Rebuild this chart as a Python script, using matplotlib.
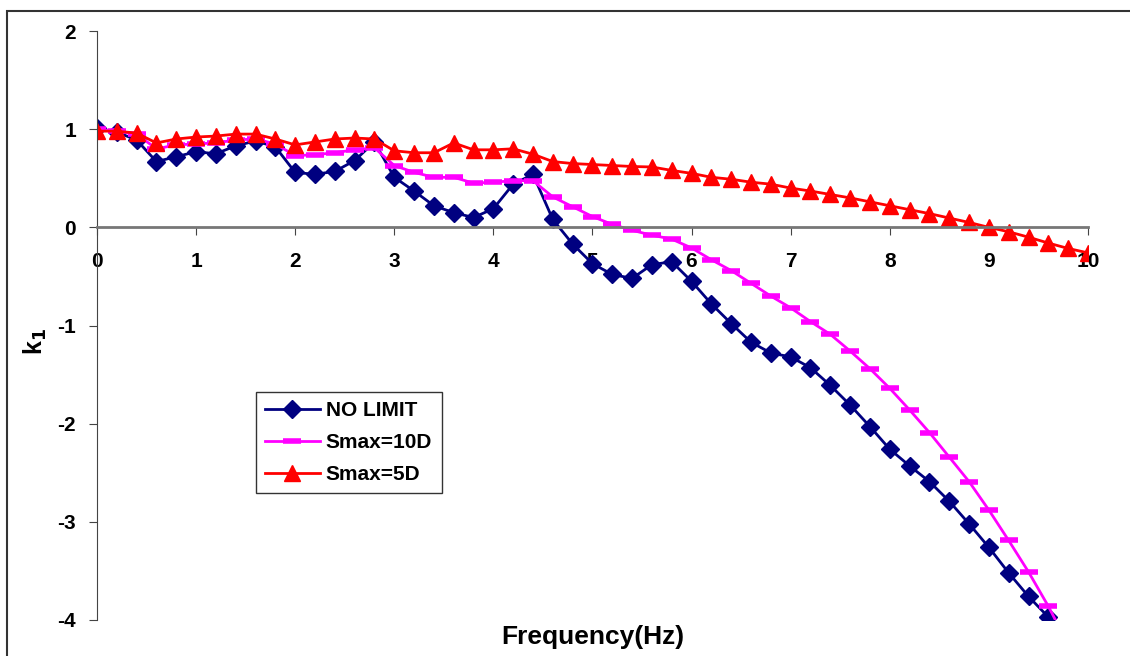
import matplotlib.pyplot as plt
from matplotlib.patches import Rectangle

# частоты, Гц (шаг 0.2)
freq = [round(0.2 * i, 1) for i in range(51)]

# коэффициент k1 без ограничения
k1_no_limit = [1.01, 0.97, 0.89, 0.67, 0.72, 0.77, 0.75, 0.83, 0.88, 0.82,
               0.56, 0.54, 0.57, 0.68, 0.87, 0.51, 0.37, 0.22, 0.15, 0.10,
               0.19, 0.44, 0.54, 0.08, -0.17, -0.37, -0.48, -0.52, -0.38, -0.35,
               -0.55, -0.78, -0.98, -1.17, -1.28, -1.32, -1.43, -1.61, -1.81, -2.03,
               -2.26, -2.43, -2.59, -2.79, -3.02, -3.26, -3.52, -3.76, -3.97, -4.25,
               -4.55]

# Smax = 10D
k1_smax10 = [1.0, 0.98, 0.95, 0.80, 0.84, 0.85, 0.86, 0.89, 0.90, 0.85,
             0.73, 0.74, 0.76, 0.79, 0.81, 0.63, 0.56, 0.51, 0.51, 0.45,
             0.46, 0.475, 0.475, 0.31, 0.21, 0.11, 0.03, -0.03, -0.08, -0.12,
             -0.21, -0.33, -0.44, -0.57, -0.70, -0.82, -0.96, -1.09, -1.26, -1.44,
             -1.64, -1.86, -2.09, -2.34, -2.59, -2.88, -3.19, -3.51, -3.86, -4.25,
             -4.65]

# Smax = 5D
k1_smax5 = [0.98, 0.98, 0.96, 0.86, 0.90, 0.92, 0.93, 0.95, 0.95, 0.90,
            0.84, 0.87, 0.90, 0.91, 0.90, 0.78, 0.76, 0.76, 0.86, 0.79,
            0.79, 0.80, 0.745, 0.67, 0.65, 0.64, 0.63, 0.62, 0.615, 0.58,
            0.55, 0.51, 0.49, 0.46, 0.44, 0.40, 0.37, 0.335, 0.30, 0.26,
            0.22, 0.18, 0.14, 0.095, 0.05, 0.0, -0.045, -0.10, -0.16, -0.215,
            -0.26]

xticks = list(range(0, 11))
yticks = [2, 1, 0, -1, -2, -3, -4]

plt.rcParams['font.family'] = ['Liberation Sans', 'DejaVu Sans']
plt.rcParams['font.weight'] = 'bold'
plt.rcParams['axes.unicode_minus'] = False

fig = plt.figure(figsize=(11.3, 6.56), dpi=100)
ax = fig.add_axes([0.0858, 0.0549, 0.877, 0.8978])

ax.plot(freq, k1_no_limit, color='#000080', lw=2, marker='D', ms=9, label='NO LIMIT')
ax.plot(freq, k1_smax10, color='#FF00FF', lw=2, marker='_', ms=13, mew=4, label='Smax=10D')
ax.plot(freq, k1_smax5, color='#FF0000', lw=2, marker='^', ms=11, label='Smax=5D')

ax.set_xlim(0, 10)
ax.set_ylim(-4, 2)

# оси пересекаются в нуле
ax.spines['left'].set_position(('data', 0))
ax.spines['bottom'].set_position(('data', 0))
ax.spines['top'].set_visible(False)
ax.spines['right'].set_visible(False)
ax.spines['left'].set_color('#444444')
ax.spines['bottom'].set_color('#777777')
ax.spines['bottom'].set_linewidth(2)

ax.set_xticks(xticks)
ax.set_yticks(yticks)
ax.tick_params(axis='x', direction='out', length=6, pad=12, labelsize=15, color='#444444')
ax.tick_params(axis='y', direction='out', length=6, pad=9, labelsize=15, color='#444444')
for lbl in ax.get_xticklabels() + ax.get_yticklabels():
    lbl.set_fontweight('bold')

fig.text(0.525, 0.029, 'Frequency(Hz)', ha='center', va='center', fontsize=19, fontweight='bold')
fig.text(0.031, 0.48, r'k$_\mathbf{1}$', ha='center', va='center', rotation=90,
         fontsize=18, fontweight='bold')

leg = ax.legend(loc='upper left', bbox_to_anchor=(0.150, 0.405), fontsize=15,
                frameon=True, fancybox=False, edgecolor='black', borderpad=0.45,
                handlelength=2.6, handletextpad=0.3, labelspacing=0.62)
leg.get_frame().set_linewidth(1)
for t in leg.get_texts():
    t.set_fontweight('bold')

# рамка вокруг всей диаграммы
fig.patches.append(Rectangle((0.0062, -0.1), 1.1, 1.083, transform=fig.transFigure,
                             fill=False, lw=1.5, edgecolor='#333333'))

fig.savefig('out.png', dpi=100)
